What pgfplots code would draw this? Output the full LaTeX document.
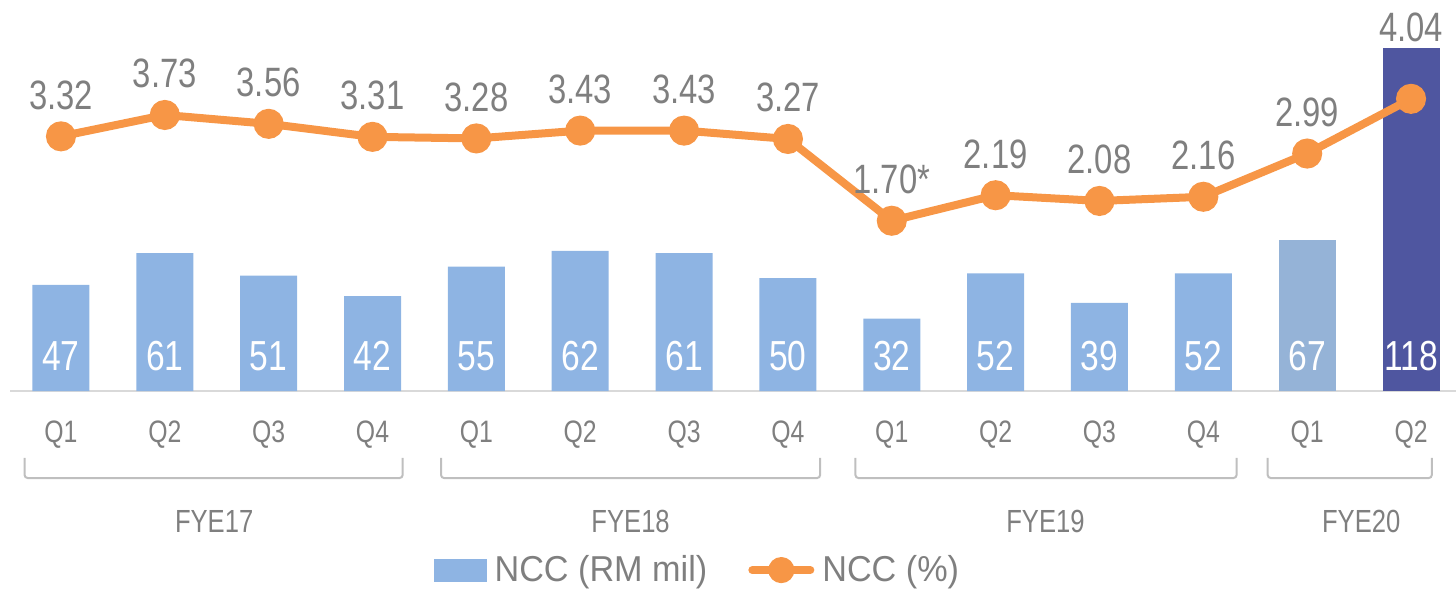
\documentclass[border=0pt]{standalone}
\usepackage{fontspec}
\setmainfont{Liberation Sans}[FakeStretch=0.8]
\newfontfamily\legfont{Liberation Sans}[FakeStretch=0.95]
\usepackage{pgfplots}
\pgfplotsset{compat=1.18}
\usepackage{pgfplotstable}
\definecolor{barblue}{HTML}{8EB4E3}
\definecolor{barblue2}{HTML}{95B3D7}
\definecolor{bardark}{HTML}{4F56A0}
\definecolor{lineorange}{HTML}{F79646}
\definecolor{txtgray}{HTML}{7F7F7F}
\definecolor{axgray}{HTML}{D9D9D9}
\definecolor{brgray}{HTML}{BFBFBF}

\pgfplotstableread{
x y
0 47
1 61
2 51
3 42
4 55
5 62
6 61
7 50
8 32
9 52
10 39
11 52
}\barsmain
\pgfplotstableread{
x y
12 67
}\barsq
\pgfplotstableread{
x y
13 151.8
}\barslast
\pgfplotstableread{
x y label
0 0 47
1 0 61
2 0 51
3 0 42
4 0 55
5 0 62
6 0 61
7 0 50
8 0 32
9 0 52
10 0 39
11 0 52
12 0 67
13 0 118
}\barlabels
\pgfplotstableread{
x y label
0 3.32 3.32
1 3.73 3.73
2 3.56 3.56
3 3.31 3.31
4 3.28 3.28
5 3.43 3.43
6 3.43 3.43
7 3.27 3.27
8 1.70 1.70*
9 2.19 2.19
10 2.08 2.08
11 2.16 2.16
12 2.99 2.99
13 4.04 4.04
}\linedata
\pgfplotstableread{
x y label
0 3.32 3.32
1 3.73 3.73
2 3.56 3.56
3 3.31 3.31
4 3.28 3.28
5 3.43 3.43
6 3.43 3.43
7 3.27 3.27
8 1.70 1.70*
9 2.19 2.19
10 2.08 2.08
11 2.16 2.16
12 2.99 2.99
}\linelabels
\pgfplotstableread{
x y label
13 4.04 4.04
}\linelabellast

\tikzset{
  qlab/.style={anchor=base, text=txtgray, font=\fontsize{15.5pt}{18pt}\selectfont, inner sep=0pt},
  flab/.style={anchor=base, text=txtgray, font=\fontsize{16pt}{18pt}\selectfont, inner sep=0pt},
  brk/.style={brgray, line width=1pt, rounded corners=1.5pt},
}
\pgfplotsset{
  base/.style={
    scale only axis, width=728pt, height=195.5pt,
    xmin=-0.587, xmax=13.433,
    axis lines=none, clip=false,
  },
  mylinelegend/.style={legend image code/.code={%
    \draw[mark repeat=2,mark phase=2,line cap=round,line width=4pt,mark size=4.5pt,##1] plot coordinates {(0pt,0pt) (14.5pt,0pt) (29pt,0pt)};}},
  mybarlegend/.style={legend image code/.code={%
    \fill[barblue] (0pt,-5.5pt) rectangle (26pt,5.5pt);}},
}

\begin{document}
\begin{tikzpicture}
\useasboundingbox (0,-100pt) rectangle (728pt,195.5pt);
\begin{axis}[base, ymin=0, ymax=173.0,
  ybar, bar width=28.5pt, bar shift=0pt,
]
\draw[axgray, line width=1pt] (axis cs:-0.49,0) -- (axis cs:13.433,0);
\addplot[fill=barblue, draw=none] table[x=x,y=y] {\barsmain};
\addplot[fill=barblue2, draw=none] table[x=x,y=y] {\barsq};
\addplot[fill=bardark, draw=none] table[x=x,y=y] {\barslast};
\addplot[draw=none, mark=none, nodes near coords, point meta=explicit symbolic,
  every node near coord/.append style={anchor=base, yshift=10.5pt, text=white,
  font=\fontsize{21pt}{24pt}\selectfont, inner sep=0pt}]
  table[x=x,y=y,meta=label] {\barlabels};
% quarter labels
\node[qlab] at (axis cs:0,-22.6) {Q1};
\node[qlab] at (axis cs:1,-22.6) {Q2};
\node[qlab] at (axis cs:2,-22.6) {Q3};
\node[qlab] at (axis cs:3,-22.6) {Q4};
\node[qlab] at (axis cs:4,-22.6) {Q1};
\node[qlab] at (axis cs:5,-22.6) {Q2};
\node[qlab] at (axis cs:6,-22.6) {Q3};
\node[qlab] at (axis cs:7,-22.6) {Q4};
\node[qlab] at (axis cs:8,-22.6) {Q1};
\node[qlab] at (axis cs:9,-22.6) {Q2};
\node[qlab] at (axis cs:10,-22.6) {Q3};
\node[qlab] at (axis cs:11,-22.6) {Q4};
\node[qlab] at (axis cs:12,-22.6) {Q1};
\node[qlab] at (axis cs:13,-22.6) {Q2};
% brackets
\draw[brk] (axis cs:-0.35,-29.6) -- (axis cs:-0.35,-38.5) -- (axis cs:3.29,-38.5) -- (axis cs:3.29,-29.6);
\draw[brk] (axis cs:3.66,-29.6) -- (axis cs:3.66,-38.5) -- (axis cs:7.31,-38.5) -- (axis cs:7.31,-29.6);
\draw[brk] (axis cs:7.65,-29.6) -- (axis cs:7.65,-38.5) -- (axis cs:11.32,-38.5) -- (axis cs:11.32,-29.6);
\draw[brk] (axis cs:11.62,-29.6) -- (axis cs:11.62,-38.5) -- (axis cs:13.2,-38.5) -- (axis cs:13.2,-29.6);
\node[flab] at (axis cs:1.475,-62.4) {FYE17};
\node[flab] at (axis cs:5.485,-62.4) {FYE18};
\node[flab] at (axis cs:9.48,-62.4) {FYE19};
\node[flab] at (axis cs:12.52,-62.4) {FYE20};
\end{axis}
\begin{axis}[base, ymin=-1.568, ymax=5.937,
  legend columns=2,
  legend style={at={(0.4797,-0.458)}, anchor=center, draw=none, fill=none,
    font=\legfont\fontsize{18pt}{21pt}\selectfont, text=txtgray,
    /tikz/every odd column/.append style={column sep=2pt},
    /tikz/every even column/.append style={column sep=18.5pt},
    inner sep=0pt, cells={anchor=west}},
]
\addlegendimage{mybarlegend}
\addplot[lineorange, line width=4pt, mark=*, mark size=5.5pt,
  mark options={fill=lineorange, draw=none}, mylinelegend]
  table[x=x,y=y] {\linedata};
\addplot[draw=none, mark=none, nodes near coords, point meta=explicit symbolic,
  every node near coord/.append style={anchor=base, yshift=13.5pt, text=txtgray,
  font=\fontsize{20.5pt}{24pt}\selectfont, inner sep=0pt}, forget plot]
  table[x=x,y=y,meta=label] {\linelabels};
\addplot[draw=none, mark=none, nodes near coords, point meta=explicit symbolic,
  every node near coord/.append style={anchor=base, yshift=28.5pt, text=txtgray,
  font=\fontsize{20.5pt}{24pt}\selectfont, inner sep=0pt}, forget plot]
  table[x=x,y=y,meta=label] {\linelabellast};
\legend{NCC (RM mil), NCC (\%)}
\end{axis}
\end{tikzpicture}
\end{document}
